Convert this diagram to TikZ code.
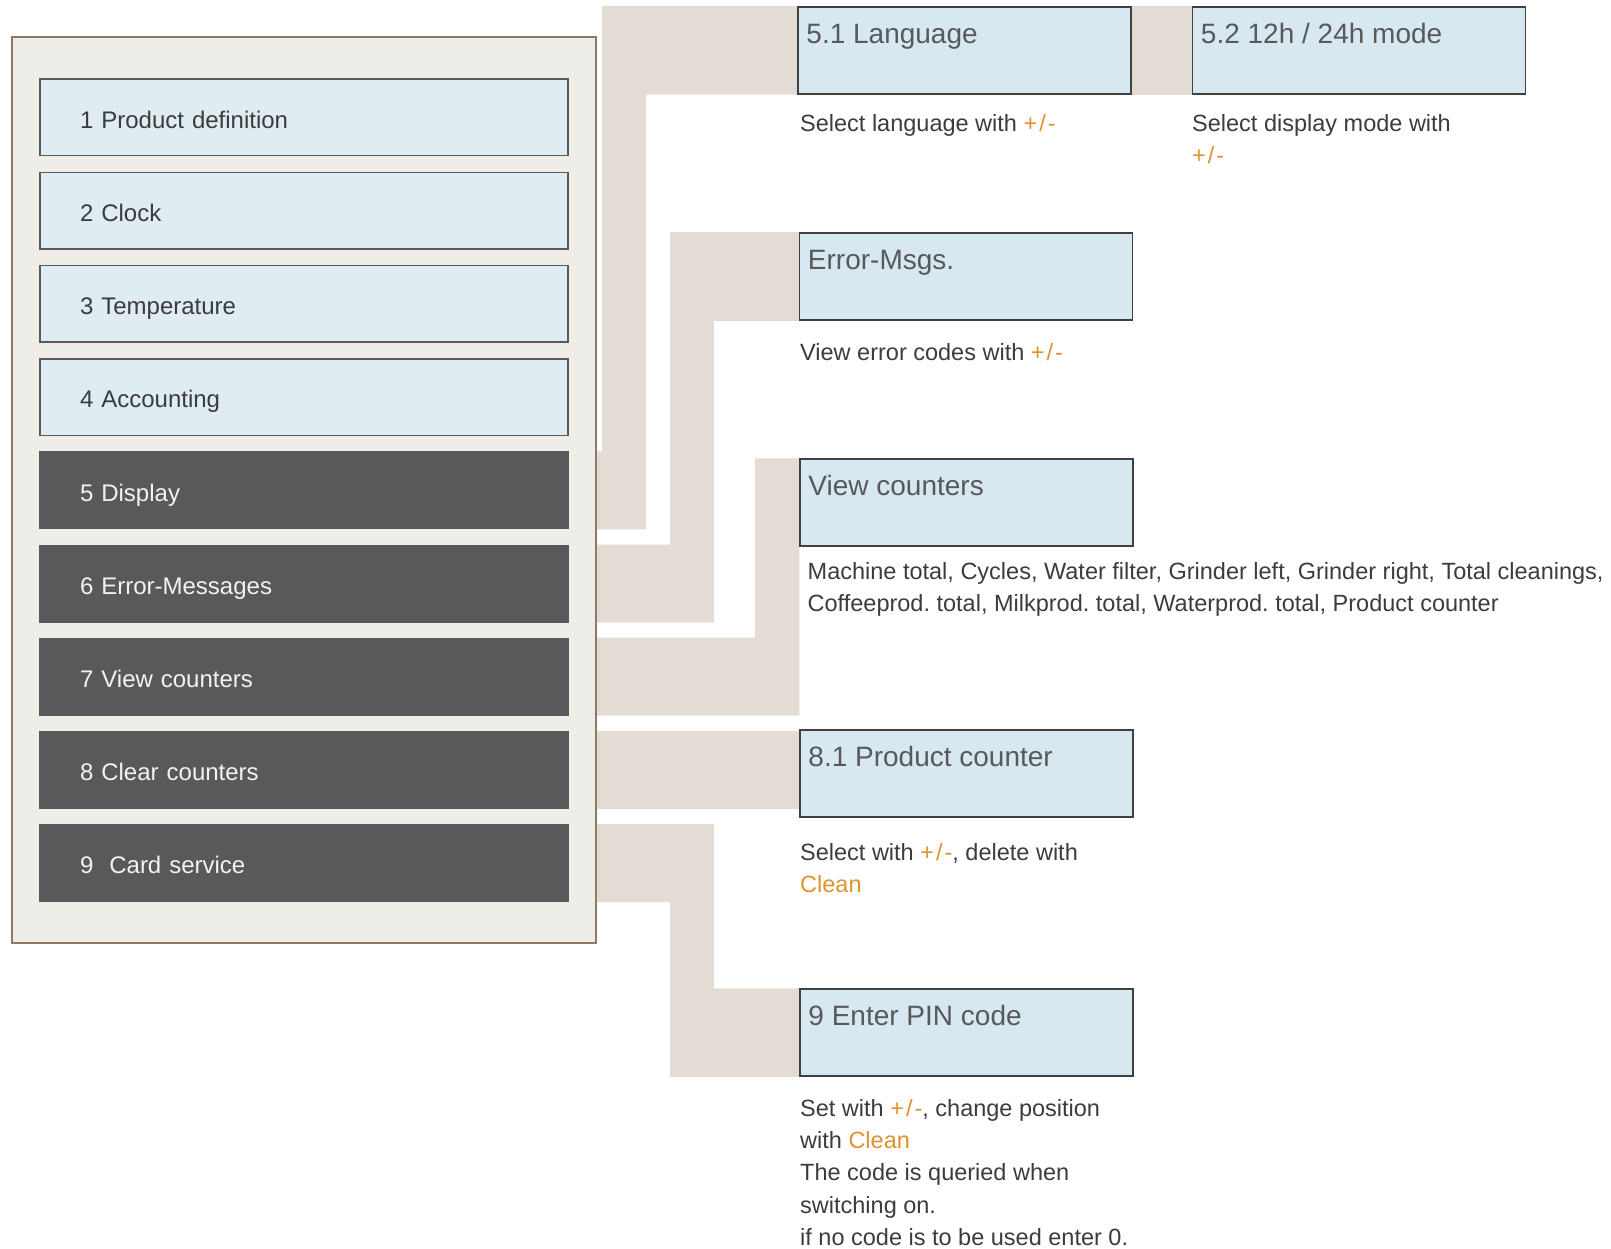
\documentclass[tikz,border=0pt]{standalone}
\usepackage{fontspec}
\setmainfont{Liberation Sans}
\frenchspacing
\definecolor{frame_fill}{HTML}{EEEDE8}
\definecolor{frame_line}{HTML}{8C7A66}
\definecolor{menu_light}{HTML}{DFECF2}
\definecolor{menu_dark}{HTML}{58595B}
\definecolor{sub_blue}{HTML}{D8E8F0}
\definecolor{band_grey}{HTML}{E2DCD5}
\definecolor{key_orange}{HTML}{E0922F}
\definecolor{txt_grey}{HTML}{3C3C3C}
\newcommand{\pmkey}{{\color{key_orange}+\kern2pt/\kern2pt-}}
\newcommand{\cleankey}{{\color{key_orange}Clean}}
\tikzstyle{frame}=[rectangle,fill=frame_fill,draw=frame_line,line width=2pt,
  minimum width=584pt,minimum height=906pt]
\tikzstyle{ml}=[rectangle,fill=menu_light,draw=menu_dark,line width=1.5pt,
  minimum height=76.5pt,inner xsep=40pt,text width=448pt,align=left,
  text height=21.6pt,text depth=0pt,
  text=txt_grey,font=\fontsize{24}{29}\selectfont]
\tikzstyle{md}=[ml,fill=menu_dark,draw=menu_dark,text=white!95!black]
\tikzstyle{sub}=[rectangle,fill=sub_blue,draw=black!75,line width=1.5pt,
  minimum width=333pt,minimum height=87pt]
\tikzstyle{ttl}=[anchor=base west,inner sep=0pt,text=menu_dark,
  font=\fontsize{28}{34}\selectfont]
\tikzstyle{txt}=[anchor=north west,inner sep=0pt,align=left,text=txt_grey,
  font=\fontsize{23.5}{32.3}\selectfont]
\tikzstyle{band}=[fill=band_grey]
\pgfdeclarelayer{bg}
\pgfsetlayers{bg,main}

\begin{document}
\begin{tikzpicture}[x=1pt,y=-1pt]
    \useasboundingbox (0,0) rectangle (1611,1249);
    % main menu
    \node [style=frame] (frame) at (304,490) {};
    \node [style=ml] (m1) at (304,117.5) {1 Product definition};
    \node [style=ml] (m2) at (304,210.7) {2 Clock};
    \node [style=ml] (m3) at (304,303.9) {3 Temperature};
    \node [style=ml] (m4) at (304,397.1) {4 Accounting};
    \node [style=md] (m5) at (304,490.3) {5 Display};
    \node [style=md] (m6) at (304,583.5) {6 Error-Messages};
    \node [style=md] (m7) at (304,676.7) {7 View counters};
    \node [style=md] (m8) at (304,769.9) {8 Clear counters};
    \node [style=md] (m9) at (304,863.1) {9~~Card service};
    % sub menus
    \node [style=sub] (l51) at (964.5,50.5) {};
    \node [style=sub] (l52) at (1359,50.5) {};
    \node [style=sub] (err) at (966,276.5) {};
    \node [style=sub] (vc) at (966.5,502.5) {};
    \node [style=sub] (pc) at (966.5,773.5) {};
    \node [style=sub] (pin) at (966.5,1032.5) {};
    \node [style=ttl] (l51t) at ([shift={(9,37)}]l51.north west) {5.1 Language};
    \node [style=ttl] (l52t) at ([shift={(9,37)}]l52.north west) {5.2 12h / 24h mode};
    \node [style=ttl] (errt) at ([shift={(9,37)}]err.north west) {Error-Msgs.};
    \node [style=ttl] (vct) at ([shift={(9,37)}]vc.north west) {View counters};
    \node [style=ttl] (pct) at ([shift={(9,37)}]pc.north west) {8.1 Product counter};
    \node [style=ttl] (pint) at ([shift={(9,37)}]pin.north west) {9 Enter PIN code};
    % descriptions
    \node [style=txt] (d51) at (800,114) {Select language with \pmkey};
    \node [style=txt] (d52) at (1192,114) {Select display mode with\\\pmkey};
    \node [style=txt] (derr) at (800,343) {View error codes with \pmkey};
    \node [style=txt] (dvc) at (807.5,562) {Machine total, Cycles, Water filter, Grinder left, Grinder right, Total cleanings,\\
      Coffeeprod. total, Milkprod. total, Waterprod. total, Product counter};
    \node [style=txt] (dpc) at (800,843) {Select with \pmkey, delete with\\\cleankey};
    \node [style=txt] (dpin) at (800,1099) {Set with \pmkey, change position\\with \cleankey\\
      The code is queried when\\switching on.\\if no code is to be used enter 0.};
    % connector bands
    \coordinate (c5) at (602,0);
    \coordinate (c5i) at (646,0);
    \coordinate (c6) at (670,0);
    \coordinate (c6i) at (714,0);
    \coordinate (c7) at (755,0);
    \coordinate (c9) at (670,0);
    \coordinate (c9i) at (714,0);
    \begin{pgfonlayer}{bg}
      \fill [style=band] (frame.east |- m5.south) -| (c5i |- l51.south) -- (l51.south west)
        -- (l51.north west) -| (c5 |- m5.north) -- (frame.east |- m5.north) -- cycle;
      \fill [style=band] (l51.north east) rectangle (l52.south west);
      \fill [style=band] (frame.east |- m6.north) -| (c6 |- err.north) -- (err.north west)
        -- (err.south west) -| (c6i |- m6.south) -- (frame.east |- m6.south) -- cycle;
      \fill [style=band] (frame.east |- m7.north) -| (c7 |- vc.north) -- (vc.north west)
        -- (vc.west |- m7.south) -- (frame.east |- m7.south) -- cycle;
      \fill [style=band] (frame.east |- m8.north) rectangle (pc.west |- m8.south);
      \fill [style=band] (frame.east |- m9.north) -| (c9i |- pin.north) -- (pin.north west)
        -- (pin.south west) -| (c9 |- m9.south) -- (frame.east |- m9.south) -- cycle;
    \end{pgfonlayer}
\end{tikzpicture}
\end{document}
